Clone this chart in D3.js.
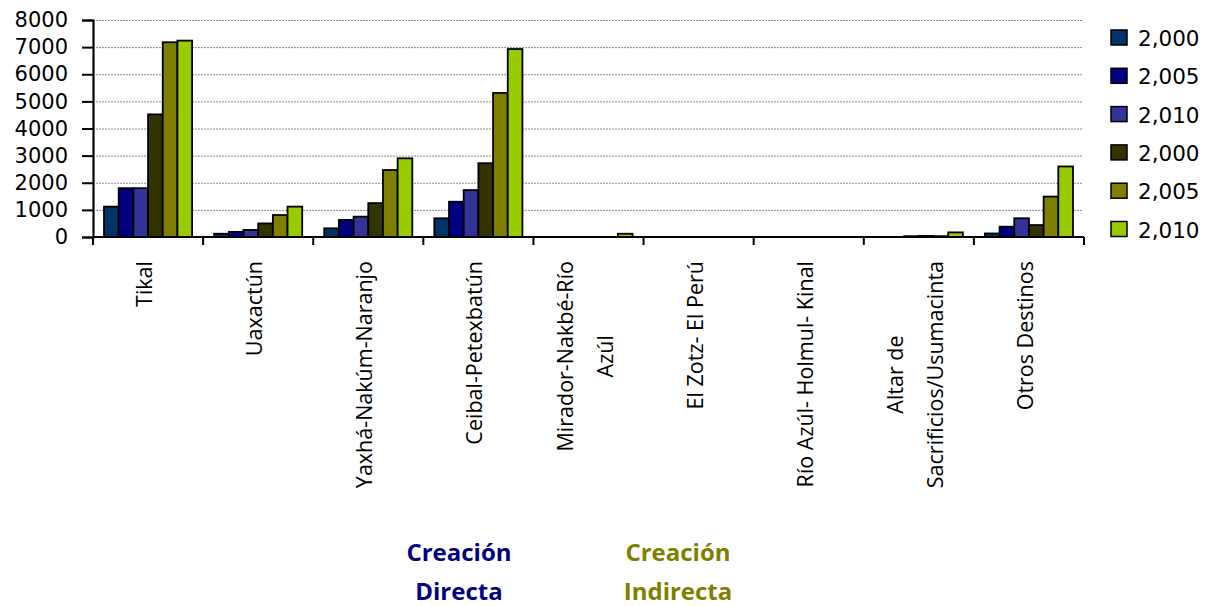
<!DOCTYPE html>
<html>
<head>
<meta charset="utf-8">
<script src="https://cdn.jsdelivr.net/npm/d3@7"></script>
<style>
  html, body { margin: 0; padding: 0; background: #fff; }
  svg { display: block; }
</style>
</head>
<body>
<svg id="chart" width="1207" height="606"></svg>
<script>
// ---- data ----
const categories = [
  "Tikal", "Uaxactún", "Yaxhá-Nakúm-Naranjo", "Ceibal-Petexbatún",
  "Mirador-Nakbé-Río\nAzúl", "El Zotz- El Perú", "Río Azúl- Holmul- Kinal",
  "Altar de\nSacrificios/Usumacinta", "Otros Destinos"
];
const seriesNames = ["2,000", "2,005", "2,010", "2,000", "2,005", "2,010"];
const seriesColors = ["#003366", "#000080", "#333399", "#333300", "#808000", "#99CC00"];
const s2000a = [1120, 120, 320, 690, 0, 0, 0, 0, 130];
const s2005a = [1800, 190, 630, 1300, 0, 0, 0, 0, 380];
const s2010a = [1800, 260, 750, 1730, 0, 0, 0, 30, 690];
const s2000b = [4520, 500, 1250, 2720, 0, 0, 0, 40, 440];
const s2005b = [7180, 810, 2470, 5310, 0, 0, 0, 30, 1490];
const s2010b = [7240, 1120, 2900, 6930, 120, 0, 0, 170, 2600];
const seriesValues = [s2000a, s2005a, s2010a, s2000b, s2005b, s2010b];
const yTicks = [0, 1000, 2000, 3000, 4000, 5000, 6000, 7000, 8000];
const groupLabels = [
  { lines: ["Creación", "Directa"], color: "#000080" },
  { lines: ["Creación", "Indirecta"], color: "#808000" }
];

// ---- layout ----
const svg = d3.select("#chart");
const plot = { left: 93, right: 1084, top: 20, bottom: 237 };

const x0 = d3.scaleBand().domain(d3.range(categories.length))
  .range([plot.left, plot.right]).paddingInner(0).paddingOuter(0);
const x1 = d3.scaleBand().domain(d3.range(seriesNames.length))
  .range([0, x0.bandwidth()]).paddingInner(0).paddingOuter(0.75);
const y = d3.scaleLinear().domain([0, 8000]).range([plot.bottom, plot.top]);

// gridlines
svg.append("g").selectAll("line").data(yTicks.filter(d => d > 0)).join("line")
  .attr("x1", plot.left).attr("x2", plot.right - 1)
  .attr("y1", d => y(d) + 0.5).attr("y2", d => y(d) + 0.5)
  .attr("stroke", "#8c8c8c").attr("stroke-width", 1)
  .attr("stroke-dasharray", "2,1");

// bars
const groups = svg.append("g").selectAll("g").data(categories).join("g")
  .attr("transform", (d, i) => `translate(${x0(i)},0)`);
groups.selectAll("rect")
  .data((d, i) => seriesValues.map((vals, s) => ({ s, v: vals[i] })).filter(e => e.v > 0))
  .join("rect")
  .attr("x", e => x1(e.s))
  .attr("width", x1.bandwidth())
  .attr("y", e => y(e.v))
  .attr("height", e => y(0) - y(e.v))
  .attr("fill", e => seriesColors[e.s])
  .attr("stroke", "#000").attr("stroke-width", 1.8);

// y axis
const yAxis = d3.axisLeft(y).tickValues(yTicks).tickSize(11).tickPadding(14)
  .tickFormat(d3.format("d"));
const gy = svg.append("g").attr("transform", `translate(${plot.left},0)`).call(yAxis);
gy.select(".domain").attr("stroke", "#000").attr("stroke-width", 2.2);
gy.selectAll(".tick line").attr("stroke", "#000").attr("stroke-width", 2);
gy.selectAll(".tick text").attr("font-family", "'DejaVu Sans', Verdana, sans-serif")
  .attr("font-size", 21).attr("fill", "#000");

// x axis (ticks at band boundaries)
const xAxisLine = svg.append("g");
xAxisLine.append("line")
  .attr("x1", plot.left).attr("x2", plot.right)
  .attr("y1", y(0)).attr("y2", y(0))
  .attr("stroke", "#000").attr("stroke-width", 2.2);
const boundaries = d3.range(categories.length + 1).map(i =>
  i < categories.length ? x0(i) : x0(categories.length - 1) + x0.bandwidth());
xAxisLine.selectAll("line.tk").data(boundaries).join("line").attr("class", "tk")
  .attr("x1", d => d).attr("x2", d => d)
  .attr("y1", y(0)).attr("y2", y(0) + 8)
  .attr("stroke", "#000").attr("stroke-width", 2);

// category labels (rotated, block's top end at y=261)
const labelTop = 261;
const lineGap = 40;
const labG = svg.append("g");
categories.forEach((c, i) => {
  const lines = c.split("\n");
  const cx = x0(i) + x0.bandwidth() / 2;
  const g = labG.append("g").attr("transform", `translate(${cx},${labelTop}) rotate(-90)`);
  const texts = lines.map((ln, k) => g.append("text")
    .attr("font-family", "'Open Sans', sans-serif").attr("font-size", 21.5)
    .attr("fill", "#000").attr("text-anchor", "middle")
    .attr("y", 4 + (k - (lines.length - 1) / 2) * lineGap)
    .text(ln));
  const maxLen = d3.max(texts, t => t.node().getComputedTextLength());
  texts.forEach(t => t.attr("x", -maxLen / 2));
});

// legend
const legend = svg.append("g");
seriesNames.forEach((n, i) => {
  const ty = 30 + i * 38.3;
  legend.append("rect").attr("x", 1111).attr("y", ty).attr("width", 16).attr("height", 15)
    .attr("fill", seriesColors[i]).attr("stroke", "#000").attr("stroke-width", 1.5);
  legend.append("text").attr("x", 1138).attr("y", ty + 16)
    .attr("font-family", "'DejaVu Sans', Verdana, sans-serif").attr("font-size", 21.5)
    .attr("fill", "#000").text(n);
});

// group labels
const groupX = [459, 678];
groupLabels.forEach((gl, i) => {
  gl.lines.forEach((ln, k) => {
    svg.append("text").attr("x", groupX[i]).attr("y", 561 + k * 39)
      .attr("text-anchor", "middle")
      .attr("font-family", "'Open Sans', sans-serif").attr("font-weight", "bold")
      .attr("font-size", 24).attr("fill", gl.color).text(ln);
  });
});
</script>
</body>
</html>
